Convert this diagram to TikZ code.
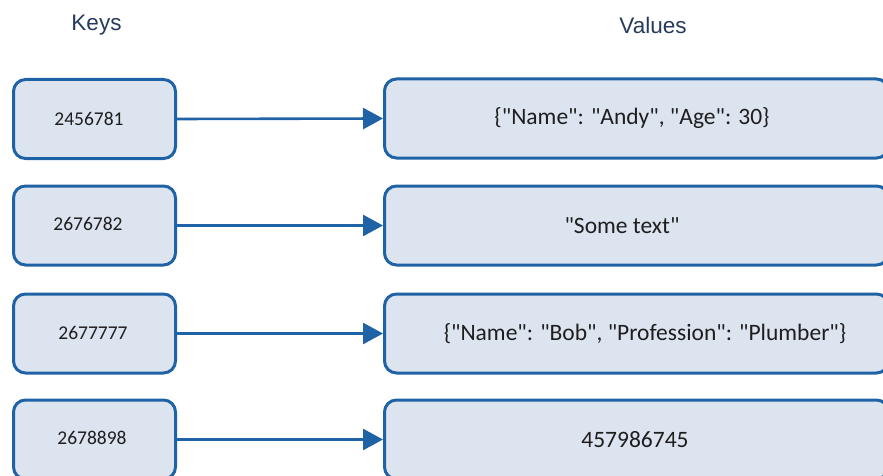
\documentclass[tikz,border=0pt]{standalone}
\usepackage{fontspec}
\setmainfont{Carlito}[Ligatures=TeXOff]
\newfontfamily\headfont{Liberation Sans}
\usetikzlibrary{arrows.meta}

\definecolor{boxline}{HTML}{2062A6}
\definecolor{boxfill}{HTML}{DCE4F0}
\definecolor{headtext}{HTML}{263A5C}
\definecolor{bodytext}{HTML}{1E1E1E}

% straight double quote
\newcommand{\dq}{\char34\relax}

\tikzset{
  keybox/.style={draw=boxline, fill=boxfill, line width=3pt, rounded corners=12pt,
    minimum width=162pt, minimum height=79pt, inner sep=0pt,
    text=bodytext, font=\fontsize{19.5}{22}\selectfont},
  valbox/.style={draw=boxline, fill=boxfill, line width=3pt, rounded corners=12pt,
    minimum width=504pt, minimum height=79pt, inner sep=0pt,
    text=bodytext, font=\fontsize{23.5}{27}\selectfont},
  header/.style={text=headtext, font=\headfont\fontsize{22.5}{26}\selectfont, inner sep=0pt},
  link/.style={draw=boxline, line width=2.6pt,
    -{Triangle[length=20pt, width=21pt]}}
}

\begin{document}
\begin{tikzpicture}[x=1pt, y=-1pt]
  \useasboundingbox (0,0) rectangle (883,476);
  \clip (0,0) rectangle (883,476);

  % column headings
  \node[header] (hkeys) at (96.5,25) {Keys};
  \node[header] (hvals) at (653,25) {Values};

  % keys
  \node[keybox] (k1) at (94.5,119)   {\raisebox{1pt}{2456781}\kern11pt};
  \node[keybox] (k2) at (94.5,225.5) {\raisebox{3pt}{2676782}\kern13pt};
  \node[keybox] (k3) at (94.5,333.5) {\raisebox{2pt}{2677777}\kern3pt};
  \node[keybox] (k4) at (94.5,439.5) {\raisebox{3pt}{2678898}\kern5pt};

  % values
  \node[valbox] (v1) at (636.5,118.5) {\{\dq Name\dq: \dq Andy\dq, \dq Age\dq: 30\}\kern9pt};
  \node[valbox] (v2) at (636.5,225.5) {\dq Some text\dq\kern29pt};
  \node[valbox] (v3) at (636.5,333.5) {\kern17pt\raisebox{2pt}{\{\dq Name\dq: \dq Bob\dq, \dq Profession\dq: \dq Plumber\dq\}}};
  \node[valbox] (v4) at (636.5,439.5) {\raisebox{1pt}{457986745}\kern3pt};

  % key -> value links
  \foreach \i in {1,...,4} {
    \draw[link] (k\i.east) -- (v\i.west);
  }
\end{tikzpicture}
\end{document}
